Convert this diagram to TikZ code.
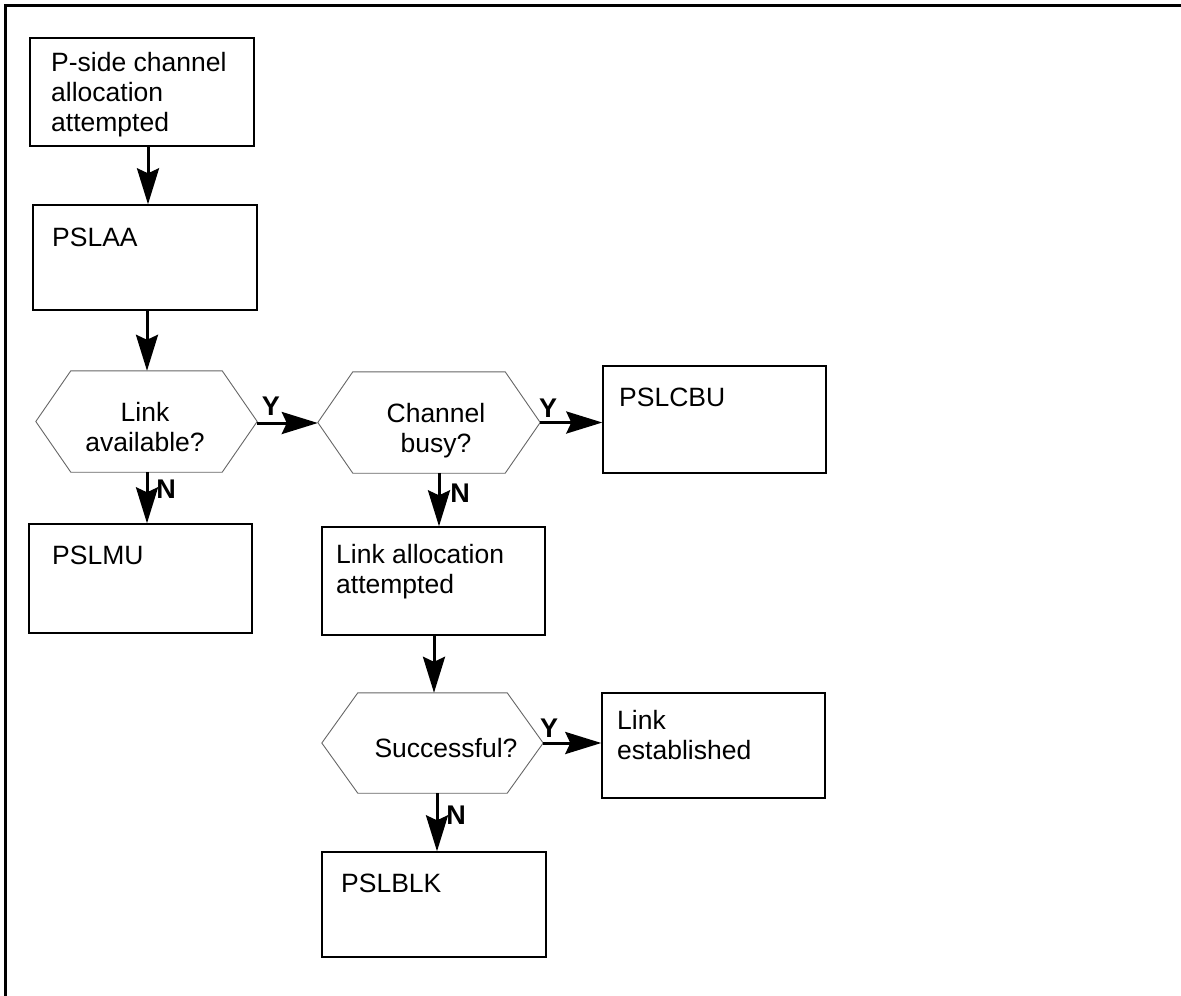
\documentclass[tikz,border=0pt]{standalone}
\usepackage{fontspec}
\setmainfont{Liberation Sans}
\usetikzlibrary{arrows.meta}
\newcommand\hexout[2]{\draw[hexline] (#1.west) -- ([xshift=#2]#1.north west) -- ([xshift=-#2]#1.north east) -- (#1.east) -- ([xshift=-#2]#1.south east) -- ([xshift=#2]#1.south west) -- cycle;}
\begin{document}
\begin{tikzpicture}[x=1pt,y=-1pt,
  box/.style={draw=black,line width=1.4pt,inner sep=0pt,minimum width=223pt},
  hexbox/.style={draw=none,inner sep=0pt,minimum width=221pt,minimum height=101pt},
  hexline/.style={draw=black!60,line width=0.9pt,line join=miter},
  txt/.style={inner sep=0pt,font=\fontsize{26.5}{30}\selectfont,align=left},
  htxt/.style={inner sep=0pt,font=\fontsize{26.5}{30}\selectfont,align=center,anchor=north},
  yn/.style={inner sep=0pt,font=\fontsize{27}{30}\selectfont\bfseries},
  arr/.style={line width=3pt,-{Stealth[length=36pt,width=22pt,inset=5pt]}},
  frame/.style={line width=3pt}]
\useasboundingbox (0,0) rectangle (1181,996);
\draw[frame] (5,996) -- (5,5) -- (1181,5);

% boxes
\node[box,minimum width=224pt,minimum height=108pt] (b1) at (142,92) {};
\node[box,minimum width=224pt,minimum height=105pt] (b2) at (145,257.5) {};
\node[box,minimum height=107pt] (cbu) at (714.5,419.5) {};
\node[box,minimum height=109pt] (mu) at (140.5,578.5) {};
\node[box,minimum height=108pt] (la) at (433.5,581) {};
\node[box,minimum height=105pt] (le) at (713.5,745.5) {};
\node[box,minimum width=224pt,minimum height=105pt] (blk) at (434,904.5) {};

% hexagons
\node[hexbox] (h1) at (146.5,421.5) {};
\node[hexbox,minimum width=222pt] (h2) at (429,422.5) {};
\node[hexbox,minimum height=100pt] (h3) at (432.5,743) {};
\hexout{h1}{35}
\hexout{h2}{35}
\hexout{h3}{36}

% texts
\node[txt,anchor=north west] (t1) at (51,52) {P-side channel\\allocation\\attempted};
\node[txt,anchor=north west] (t2) at (52,228) {PSLAA};
\node[txt,anchor=north west] (t3) at (619,388) {PSLCBU};
\node[txt,anchor=north west] (t4) at (52,546) {PSLMU};
\node[txt,anchor=north west] (t5) at (336,544) {Link allocation\\attempted};
\node[txt,anchor=north west] (t6) at (617,710) {Link\\established};
\node[txt,anchor=north west] (t7) at (341,874) {PSLBLK};
\node[htxt] (th1) at (145,402) {Link\\available?};
\node[htxt] (th2) at (436,403) {Channel\\busy?};
\node[htxt] (th3) at (446,738) {Successful?};

% connectors
\draw[arr] ([xshift=6pt]b1.south) -- ([xshift=6pt]b1.south |- b2.north);
\draw[arr] ([xshift=2pt]b2.south) -- ([xshift=2pt]b2.south |- h1.north);
\draw[arr] ([xshift=0.5pt]h1.south) -- ([xshift=0.5pt]h1.south |- mu.north);
\draw[arr] ([xshift=10pt]h2.south) -- ([xshift=10pt]h2.south |- la.north);
\draw[arr] ([xshift=0.5pt]la.south) -- ([xshift=0.5pt]la.south |- h3.north);
\draw[arr] ([xshift=4.5pt]h3.south) -- ([xshift=4.5pt]h3.south |- blk.north);
\draw[arr] ([yshift=-1.5pt]h1.east) -- ([yshift=-1.5pt]h1.east -| h2.west);
\draw[arr] (h2.east) -- (h2.east -| cbu.west);
\draw[arr] (h3.east) -- (h3.east -| le.west);

% labels
\node[yn] (y1) at (271,406) {Y};
\node[yn] (y2) at (548,408) {Y};
\node[yn] (y3) at (549,728) {Y};
\node[yn] (n1) at (166,489) {N};
\node[yn] (n2) at (460,493) {N};
\node[yn] (n3) at (456,815) {N};
\end{tikzpicture}
\end{document}
